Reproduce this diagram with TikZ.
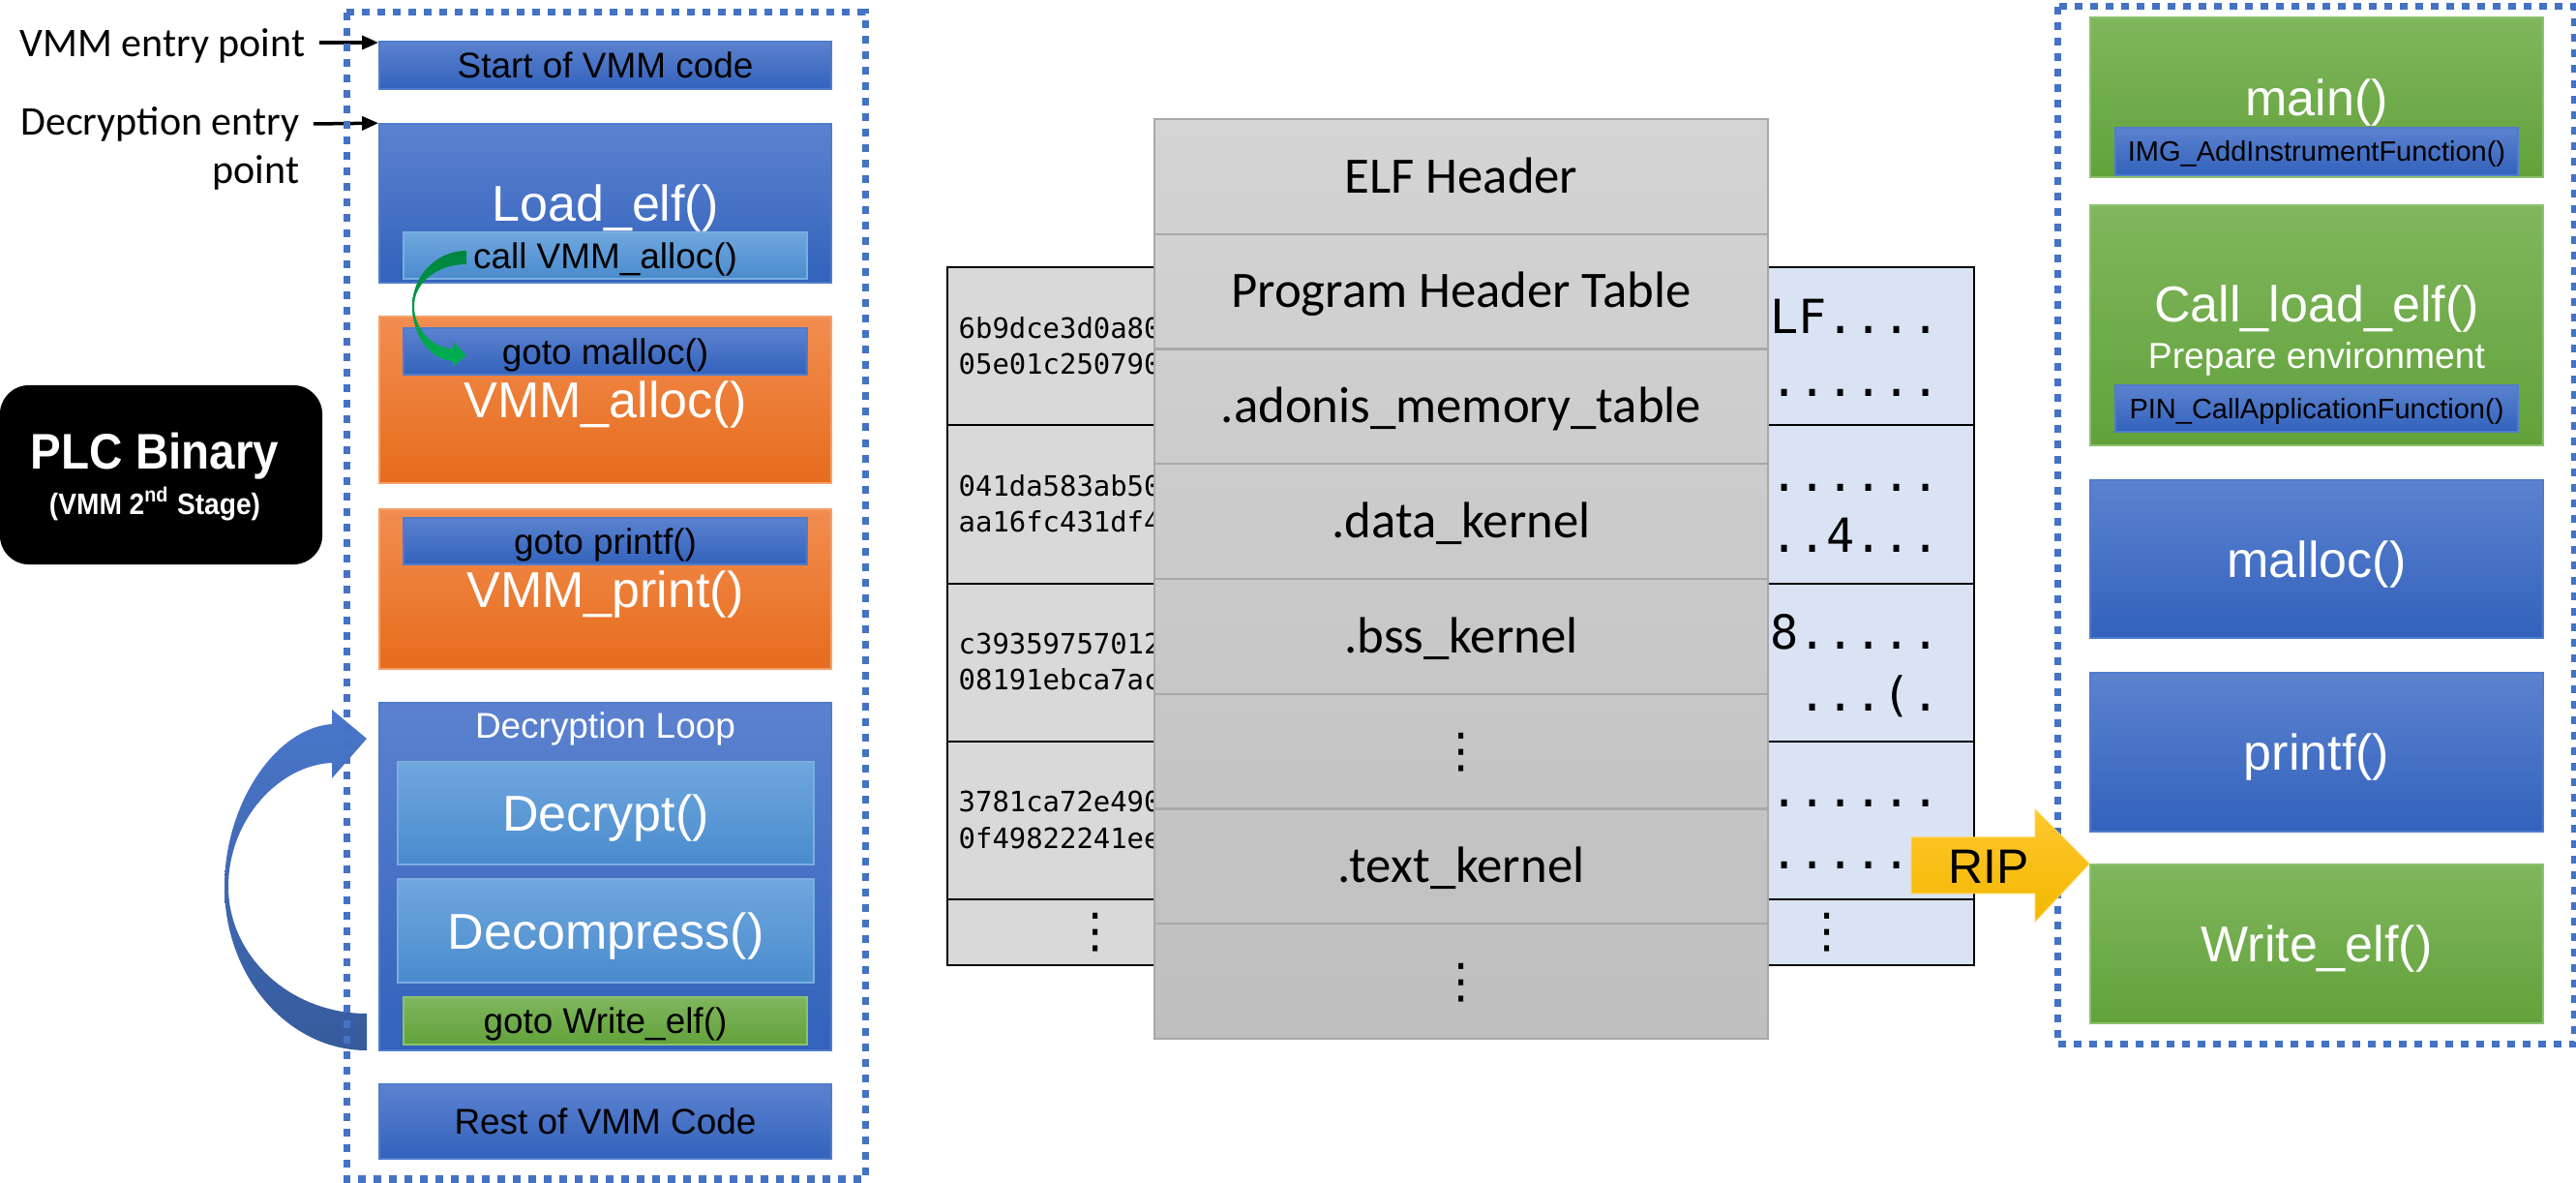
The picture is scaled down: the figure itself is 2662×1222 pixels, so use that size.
\documentclass[tikz,border=0pt]{standalone}
\usepackage{fontspec}
\setmainfont{Liberation Sans}
\newfontfamily\calibri{Carlito}
\newfontfamily\hexmono{DejaVu Sans Mono}
\newfontfamily\symbfont{DejaVu Sans}
\newfontfamily\plcfont[FakeStretch=0.92]{Liberation Sans}
\usetikzlibrary{arrows.meta}

\definecolor{bluetop}{HTML}{5C82CF}
\definecolor{bluebot}{HTML}{3262BC}
\definecolor{blueedge}{HTML}{4F7CCB}
\definecolor{orangetop}{HTML}{F28D50}
\definecolor{orangebot}{HTML}{E66C1C}
\definecolor{orangeedge}{HTML}{F4A06A}
\definecolor{greentop}{HTML}{80B65E}
\definecolor{greenbot}{HTML}{62A23A}
\definecolor{greenedge}{HTML}{8CC26C}
\definecolor{skytop}{HTML}{6FA7DE}
\definecolor{skybot}{HTML}{4A8BCD}
\definecolor{skyedge}{HTML}{7AAEE0}
\definecolor{framecol}{HTML}{4472C4}
\definecolor{stacktop}{HTML}{D4D4D4}
\definecolor{stackbot}{HTML}{BFBFBF}
\definecolor{stackline}{HTML}{A8A8A8}
\definecolor{hexgray}{HTML}{D9D9D9}
\definecolor{asciiblue}{HTML}{DAE3F3}
\definecolor{riptop}{HTML}{FFC82E}
\definecolor{ripbot}{HTML}{F2B700}
\definecolor{looptop}{HTML}{4A77CB}
\definecolor{loopbot}{HTML}{365B9C}
\definecolor{calltop}{HTML}{00843F}
\definecolor{callbot}{HTML}{00B050}

\tikzset{
  blk/.style={rectangle, inner sep=0pt, line width=0.015cm},
  bluebox/.style={blk, draw=blueedge, top color=bluetop, bottom color=bluebot},
  orangebox/.style={blk, draw=orangeedge, top color=orangetop, bottom color=orangebot},
  greenbox/.style={blk, draw=greenedge, top color=greentop, bottom color=greenbot},
  skybox/.style={blk, draw=skyedge, top color=skytop, bottom color=skybot},
  smalltxt/.style={font=\fontsize{10.5}{12}\selectfont, text height=0.265cm, text depth=0pt},
  bigtxt/.style={font=\fontsize{14.8}{17}\selectfont, text=white, text height=0.372cm, text depth=0pt},
  tinytxt/.style={font=\fontsize{8.25}{10}\selectfont, text height=0.208cm, text depth=0pt},
  entrylbl/.style={inner sep=0pt, font=\calibri\fontsize{11.95}{14}\selectfont},
  entryarrow/.style={-{Triangle[length=0.17cm,width=0.14cm]}, line width=0.035cm},
  dotframe/.style={draw=framecol, line width=0.07cm, dash pattern=on 0.08cm off 0.08cm},
  stackrow/.style={rectangle, draw=stackline, line width=0.02cm, minimum width=6.34cm,
    minimum height=1.1875cm, inner sep=0pt, font=\calibri\fontsize{15}{18}\selectfont,
    text height=0.335cm, text depth=0pt},
  hexcell/.style={rectangle, draw=black, line width=0.02cm, fill=hexgray, minimum width=3.06cm, inner sep=0pt},
  asciicell/.style={rectangle, draw=black, line width=0.02cm, fill=asciiblue, minimum width=3.04cm, inner sep=0pt},
  hexline/.style={anchor=base west, inner sep=0pt, font=\hexmono\fontsize{8.22}{10}\selectfont},
  asciiline/.style={anchor=base east, inner sep=0pt, font=\hexmono\fontsize{13.8}{16}\selectfont},
  vdots/.style={font=\symbfont\fontsize{14}{17}\selectfont}
}

\begin{document}
\begin{tikzpicture}[x=0.01cm, y=-0.01cm]
  \useasboundingbox (0,0) rectangle (2662,1222);

  % PLC badge
  \node[fill=black, rounded corners=0.3cm, minimum width=3.33cm, minimum height=1.85cm] (plc) at (166.5,490.5) {};
  \node[anchor=base, inner sep=0pt, text=white, font=\plcfont\bfseries\fontsize{14.7}{17}\selectfont] (plctitle) at (160,485) {PLC Binary};
  \node[anchor=base, inner sep=0pt, text=white, font=\plcfont\bfseries\fontsize{8.7}{10}\selectfont] (plcsub) at (160,532) {(VMM 2\textsuperscript{nd} Stage)};

  % VMM layout
  \node[bluebox, smalltxt, minimum width=4.67cm, minimum height=0.49cm] (startvmm) at (625.5,67.5) {Start of VMM code};
  \node[bluebox, bigtxt, minimum width=4.67cm, minimum height=1.64cm] (loadelf) at (625.5,210) {Load\_elf()};
  \node[skybox, smalltxt, minimum width=4.17cm, minimum height=0.48cm] (callalloc) at (625.5,264) {call VMM\_alloc()};
  \node[orangebox, bigtxt, minimum width=4.67cm, minimum height=1.72cm] (vmmalloc) at (625.5,413) {VMM\_alloc()};
  \node[bluebox, smalltxt, minimum width=4.17cm, minimum height=0.48cm] (gotomalloc) at (625.5,363) {goto malloc()};
  \node[orangebox, bigtxt, minimum width=4.67cm, minimum height=1.65cm] (vmmprint) at (625.5,608.5) {VMM\_print()};
  \node[bluebox, smalltxt, minimum width=4.17cm, minimum height=0.48cm] (gotoprintf) at (625.5,559) {goto printf()};
  \node[bluebox, minimum width=4.67cm, minimum height=3.59cm] (decloop) at (625.5,905.5) {};
  \node[anchor=base, inner sep=0pt, text=white, font=\fontsize{10.5}{12}\selectfont] (decloopname) at (625.5,762.5) {Decryption Loop};
  \node[skybox, bigtxt, minimum width=4.30cm, minimum height=1.06cm] (decrypt) at (626,840) {Decrypt()};
  \node[skybox, bigtxt, minimum width=4.30cm, minimum height=1.07cm] (decompress) at (626,961.5) {Decompress()};
  \node[greenbox, smalltxt, minimum width=4.17cm, minimum height=0.49cm] (gotowrite) at (625.5,1054.5) {goto Write\_elf()};
  \node[bluebox, smalltxt, minimum width=4.67cm, minimum height=0.77cm] (restvmm) at (625.5,1158.5) {Rest of VMM Code};

  % entry points
  \node[entrylbl, anchor=base east] (vmmentry) at (316,59) {VMM entry point};
  \node[entrylbl, anchor=base east] (decentry) at (310,140) {Decryption entry};
  \node[entrylbl, anchor=base east] (decentrypt) at (310,190) {point};
  \coordinate (vmmtail) at (330,44);
  \coordinate (dectail) at (324,128);
  \draw[entryarrow] (vmmtail) -- (vmmtail -| startvmm.west);
  \draw[entryarrow] (dectail) -- (loadelf.north west);

  % call into VMM_alloc
  \shade[top color=calltop, bottom color=callbot]
    (482,259) .. controls (451,259) and (426,285) .. (426,316)
    .. controls (426,347) and (445,372) .. (468,373) -- (468,379) -- (482,367) -- (468,353) -- (468,360)
    .. controls (447,360) and (428,340) .. (428,316)
    .. controls (428,292) and (452,273) .. (482,273) -- cycle;

  % loop back
  \shade[top color=looptop, bottom color=loopbot]
    (379,1085) .. controls (298,1085) and (232,1009) .. (232,916)
    .. controls (232,830) and (285,752) .. (343,748) -- (343,733) -- (379,763) -- (343,804) -- (343,788)
    .. controls (290,790) and (236,845) .. (236,916)
    .. controls (236,988) and (300,1047) .. (379,1047) -- cycle;

  \draw[dotframe] (358,13) rectangle (894,1218);

  % hex dump
  \node[hexcell, minimum height=1.63cm] (hexA1) at (1132,357.5) {};
  \node[hexcell, minimum height=1.64cm] (hexA2) at (1132,521) {};
  \node[hexcell, minimum height=1.63cm] (hexA3) at (1132,684.5) {};
  \node[hexcell, minimum height=1.63cm] (hexA4) at (1132,847.5) {};
  \node[hexcell, minimum height=0.68cm, vdots] (hexA5) at (1132,963) {⋮};
  \node[asciicell, minimum height=1.63cm] (ascB1) at (1888,357.5) {};
  \node[asciicell, minimum height=1.64cm] (ascB2) at (1888,521) {};
  \node[asciicell, minimum height=1.63cm] (ascB3) at (1888,684.5) {};
  \node[asciicell, minimum height=1.63cm] (ascB4) at (1888,847.5) {};
  \node[asciicell, minimum height=0.68cm, vdots] (ascB5) at (1888,963) {⋮};

  \node[hexline] (hex1) at (990,350) {6b9dce3d0a80};
  \node[hexline] (hex2) at (990,387) {05e01c250790};
  \node[hexline] (hex3) at (990,513) {041da583ab50};
  \node[hexline] (hex4) at (990,550) {aa16fc431df4};
  \node[hexline] (hex5) at (990,676) {c39359757012};
  \node[hexline] (hex6) at (990,713) {08191ebca7ac};
  \node[hexline] (hex7) at (990,839) {3781ca72e490};
  \node[hexline] (hex8) at (990,877) {0f49822241ee};

  \node[asciiline] (asc1) at (2005,345) {LF....};
  \node[asciiline] (asc2) at (2005,410) {......};
  \node[asciiline] (asc3) at (2005,508) {......};
  \node[asciiline] (asc4) at (2005,571) {..4...};
  \node[asciiline] (asc5) at (2005,671) {8.....};
  \node[asciiline] (asc6) at (2005,735) {...(.};
  \node[asciiline] (asc7) at (2005,834) {......};
  \node[asciiline] (asc8) at (2005,898) {......};

  % ELF sections
  \shade[top color=stacktop, bottom color=stackbot] (1193,123) rectangle (1827,1073);
  \node[stackrow] (elfhdr) at (1510,182.4) {ELF Header};
  \node[stackrow] (phdr) at (1510,301.1) {Program Header Table};
  \node[stackrow] (memtab) at (1510,419.9) {.adonis\_memory\_table};
  \node[stackrow] (datak) at (1510,538.6) {.data\_kernel};
  \node[stackrow] (bssk) at (1510,657.4) {.bss\_kernel};
  \node[stackrow] (secdots) at (1510,776.1) {\symbfont\fontsize{14}{17}\selectfont ⋮};
  \node[stackrow] (textk) at (1510,894.9) {.text\_kernel};
  \node[stackrow] (taildots) at (1510,1013.6) {\symbfont\fontsize{14}{17}\selectfont ⋮};

  % host side
  \node[greenbox, bigtxt, minimum width=4.68cm, minimum height=1.65cm] (mainfn) at (2394,100.5) {main()};
  \node[bluebox, tinytxt, minimum width=4.16cm, minimum height=0.49cm] (imgadd) at (2394,156.5) {IMG\_AddInstrumentFunction()};
  \node[greenbox, minimum width=4.68cm, minimum height=2.48cm] (callload) at (2394,336) {};
  \node[anchor=base, inner sep=0pt, text=white, font=\fontsize{14.8}{17}\selectfont] (callloadname) at (2394,333) {Call\_load\_elf()};
  \node[anchor=base, inner sep=0pt, text=white, font=\fontsize{10.6}{12}\selectfont] (prepenv) at (2394,381) {Prepare environment};
  \node[bluebox, tinytxt, minimum width=4.16cm, minimum height=0.48cm] (pincall) at (2394,422) {PIN\_CallApplicationFunction()};
  \node[bluebox, bigtxt, minimum width=4.68cm, minimum height=1.63cm] (mallocfn) at (2394,577.5) {malloc()};
  \node[bluebox, bigtxt, minimum width=4.68cm, minimum height=1.64cm] (printffn) at (2394,777) {printf()};
  \node[greenbox, bigtxt, minimum width=4.68cm, minimum height=1.64cm] (writeelf) at (2394,975) {Write\_elf()};

  \draw[dotframe] (2126,7) rectangle (2660,1079);

  % instruction pointer
  \shade[top color=riptop, bottom color=ripbot, draw=riptop!80!white, line width=0.01cm]
    (1975,865) -- (2103,865) -- (2103,836) -- (writeelf.north west) -- (2103,952) -- (2103,923) -- (1975,923) -- cycle;
  \node[anchor=base, inner sep=0pt, font=\fontsize{14.2}{17}\selectfont] (rip) at (2055,913) {RIP};
\end{tikzpicture}
\end{document}
